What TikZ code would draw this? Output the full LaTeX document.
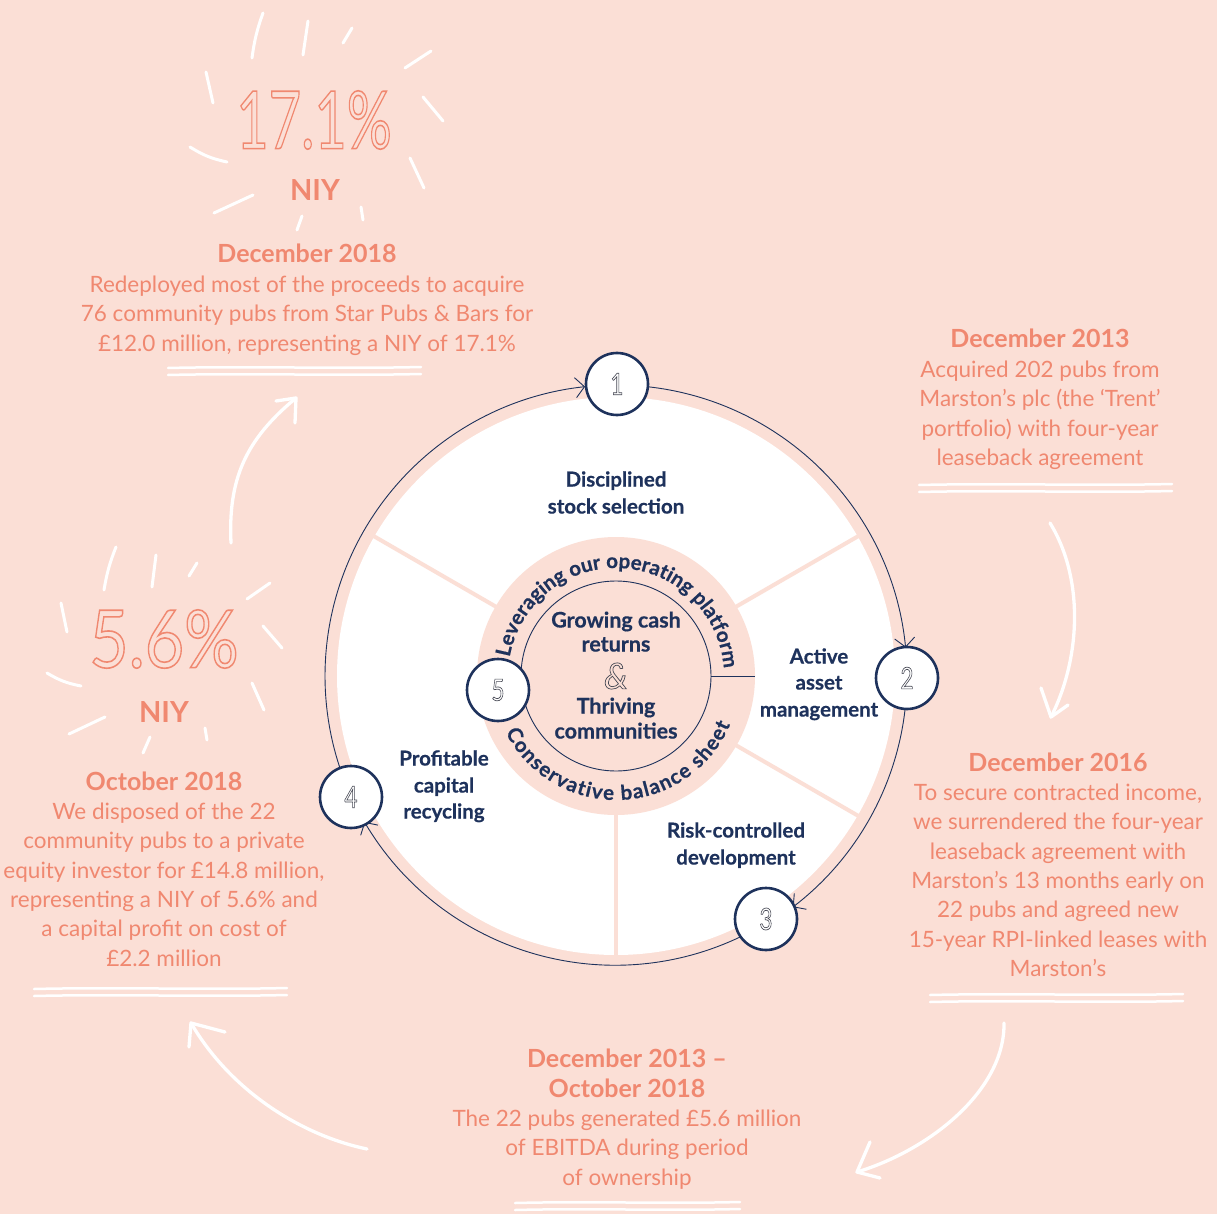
\documentclass[tikz,border=0pt]{standalone}
\usepackage{fontspec}
\setmainfont{Lato}
\usetikzlibrary{arrows.meta,decorations.text,calc}
\definecolor{bg}{RGB}{251,223,214}
\definecolor{salmon}{RGB}{240,136,112}
\definecolor{navy}{RGB}{30,50,92}
\definecolor{digitc}{RGB}{70,72,84}
\newcommand\olt[2]{\special{pdf:literal direct #1 w 1 Tr}#2\special{pdf:literal direct 0 Tr}}
\newcommand\heavy{\bfseries\addfontfeatures{FakeBold=0.5}}
\tikzset{
  body/.style={text=salmon, font=\fontsize{22.5}{25}\selectfont, anchor=mid, inner sep=0pt, yshift=-6pt},
  head/.style={text=salmon, font=\bfseries\fontsize{25}{28}\selectfont, anchor=mid, inner sep=0pt, yshift=-7pt},
  niy/.style={text=salmon, font=\bfseries\fontsize{29}{30}\selectfont, anchor=mid, inner sep=0pt, yshift=-8pt},
  lab/.style={text=navy, font=\heavy\fontsize{20.5}{23}\selectfont, anchor=mid, inner sep=0pt, yshift=-5pt},
  cen/.style={text=navy, font=\heavy\fontsize{21.5}{23}\selectfont, anchor=mid, inner sep=0pt, yshift=-5pt},
  numc/.style={circle, draw=navy, line width=2.6pt, fill=white, minimum size=62pt, inner sep=0pt, text=digitc},
  sketch/.style={white, line width=3pt, line cap=round, line join=round},
  uline/.style={white, line width=2.5pt, line cap=round},
  arr/.style={navy, line width=0.9pt, -{Straight Barb[length=9pt,width=20pt]}},
  spoke/.style={bg, line width=4pt},
}
\newcommand\dig[1]{\scalebox{0.75}[1]{\fontsize{30}{30}\selectfont\olt{0.7}{#1}}}
\begin{document}
\begin{tikzpicture}[x=1pt,y=1pt]
\fill[bg] (0,0) rectangle (1217,-1214);
\useasboundingbox (0,0) rectangle (1217,-1214);
\coordinate (C) at (616,-676);

% white disc and spokes
\fill[white] (C) circle[radius=279pt];
\foreach \a in {150,30,-30,270}
  \draw[spoke] ($(C)+(\a:137pt)$) -- ($(C)+(\a:281pt)$);
\fill[bg] (C) circle[radius=139pt];
\draw[navy, line width=0.9pt] (C) circle[radius=95pt];
\draw[navy, line width=0.9pt] ($(C)+(0:95pt)$) -- ($(C)+(0:139pt)$);

% curved texts
\path[decorate, decoration={text along path, text align=fit to path,
  text={|\heavy\fontsize{20.5}{21}\selectfont\color{navy}|Leveraging our operating platform}}]
  ($(C)+(170:108pt)$) arc[start angle=170, end angle=4, radius=108pt];
\path[decorate, decoration={text along path, text align=fit to path,
  text={|\heavy\fontsize{20.5}{21}\selectfont\color{navy}|Conservative balance sheet}}]
  ($(C)+(207:124pt)$) arc[start angle=207, end angle=337, radius=124pt];

% outer cycle arrows
\draw[arr] ($(C)+(83.9:291pt)$) arc[start angle=83.9, end angle=5.6, radius=291pt];
\draw[arr] ($(C)+(-6.6:291pt)$) arc[start angle=-6.6, end angle=-52.6, radius=291pt];
\draw[arr] ($(C)+(-64.4:289pt)$) arc[start angle=-64.4, end angle=-149.5, radius=291pt];
\draw[arr] ($(C)+(198.4:291pt)$) arc[start angle=198.4, end angle=96.1, radius=291pt];

% numbered nodes
\node[numc] (n1) at (617,-384) {\dig{1}};
\node[numc] (n2) at (907,-678) {\dig{2}};
\node[numc] (n3) at (766,-919) {\dig{3}};
\node[numc] (n4) at (351,-797) {\dig{4}};
\node[numc] (n5) at (498,-690) {\dig{5}};

% labels in the wheel
\node[lab] (l1a) at (616,-479) {Disciplined};
\node[lab] (l1b) at (616,-506) {stock selection};
\node[lab] (l2a) at (819,-656) {Active};
\node[lab] (l2b) at (819,-682) {asset};
\node[lab] (l2c) at (819,-709) {management};
\node[lab] (l3a) at (736,-830) {Risk-controlled};
\node[lab] (l3b) at (736,-857) {development};
\node[lab] (l4a) at (444,-758) {Profitable};
\node[lab] (l4b) at (444,-785) {capital};
\node[lab] (l4c) at (444,-811) {recycling};
\node[cen] (c1) at (616,-620) {Growing cash};
\node[cen] (c2) at (616,-644) {returns};
\node[text=digitc, inner sep=0pt] (amp) at (616,-676) {\fontsize{36}{36}\selectfont\itshape\olt{0.7}{\&}};
\node[cen] (c3) at (616,-706) {Thriving};
\node[cen] (c4) at (616,-731) {communities};

% big figures
\node[text=salmon, inner sep=0pt] (big1) at (314,-120) {\scalebox{0.7}[1]{\fontsize{80}{80}\selectfont\olt{1.6}{17.1\%}}};
\node[niy] (niy1) at (315,-190) {NIY};
\node[text=salmon, inner sep=0pt] (big2) at (164,-639) {\scalebox{0.85}[1]{\fontsize{80}{80}\selectfont\olt{1.6}{5.6\%}}};
\node[niy] (niy2) at (164,-712) {NIY};

% text blocks
\node[head] (h1) at (307,-253) {December 2018};
\foreach \t [count=\i] in {Redeployed most of the proceeds to acquire, 76 community pubs from Star Pubs \& Bars for, {£12.0 million, representing a NIY of 17.1\%}}
  \node[body] (tl\i) at (307,{-284-29.3*(\i-1)}) {\t};

\node[head] (h2) at (1040,-338) {December 2013};
\foreach \t [count=\i] in {Acquired 202 pubs from, Marston’s plc (the ‘Trent’, portfolio) with four-year, leaseback agreement}
  \node[body] (tr\i) at (1040,{-369-29.3*(\i-1)}) {\t};

\node[head] (h3) at (1058,-762) {December 2016};
\foreach \t [count=\i] in {{To secure contracted income,}, we surrendered the four-year, leaseback agreement with, Marston’s 13 months early on, 22 pubs and agreed new, 15-year RPI-linked leases with, Marston’s}
  \node[body] (br\i) at (1058,{-792-29.3*(\i-1)}) {\t};

\node[head] (h4) at (164,-781) {October 2018};
\foreach \t [count=\i] in {We disposed of the 22, community pubs to a private, {equity investor for £14.8 million,}, representing a NIY of 5.6\% and, a capital profit on cost of, £2.2 million}
  \node[body] (bl\i) at (164,{-811-29.3*(\i-1)}) {\t};

\node[head] (h5a) at (627,-1058) {December 2013 –};
\node[head] (h5b) at (627,-1088) {October 2018};
\foreach \t [count=\i] in {The 22 pubs generated £5.6 million, of EBITDA during period, of ownership}
  \node[body] (bm\i) at (627,{-1118-29.3*(\i-1)}) {\t};

% underlines
\foreach \xa/\xb/\yy in {168/421/368, 919/1172/485, 930/1183/995, 34/287/989, 515/740/1203}{
  \draw[uline] (\xa,-\yy) .. controls (\xa+80,-\yy+2) and (\xb-80,-\yy-1) .. (\xb,-\yy+1);
  \draw[uline] (\xa,-\yy-7) .. controls (\xa+80,-\yy-5) and (\xb-80,-\yy-8) .. (\xb,-\yy-6);
}

% rays around 17.1%
\draw[sketch] (263,-13) to[bend right=6] (252,-58);
\draw[sketch] (308,-21) -- (303,-55);
\draw[sketch] (352,-28) -- (343,-43);
\draw[sketch] (431,-51) -- (405,-68);
\draw[sketch] (423,-97) -- (443,-121);
\draw[sketch] (410,-158) -- (424,-188);
\draw[sketch] (361,-207) -- (363,-220);
\draw[sketch] (302,-216) -- (297,-230);
\draw[sketch] (253,-195) -- (214,-213);
\draw[sketch] (190,-147) to[bend right=10] (227,-162);
\draw[sketch] (206,-72) -- (213,-103);

% rays around 5.6%
\draw[sketch] (116,-547) to[bend right=6] (104,-590);
\draw[sketch] (156,-555) -- (152,-587);
\draw[sketch] (197,-563) -- (189,-576);
\draw[sketch] (270,-583) -- (247,-599);
\draw[sketch] (263,-626) -- (282,-648);
\draw[sketch] (252,-683) -- (264,-710);
\draw[sketch] (205,-728) -- (207,-740);
\draw[sketch] (150,-737) -- (143,-753);
\draw[sketch] (105,-717) -- (69,-734);
\draw[sketch] (47,-673) to[bend right=10] (81,-686);
\draw[sketch] (61,-603) -- (67,-632);

% sketched arrows
\draw[sketch, line width=3.3pt] (231,-543) .. controls (228,-480) and (245,-440) .. (296,-398);
\draw[sketch, line width=3.3pt] (276,-401) -- (296,-398) -- (295,-423);
\draw[sketch, line width=3.3pt] (1050,-523) .. controls (1085,-580) and (1080,-660) .. (1051,-717);
\draw[sketch, line width=3.3pt] (1041,-688) -- (1051,-717) -- (1068,-705);
\draw[sketch, line width=3.3pt] (1004,-1023) .. controls (1005,-1090) and (930,-1150) .. (857,-1172);
\draw[sketch, line width=3.3pt] (870,-1142) -- (857,-1172) -- (880,-1178);
\draw[sketch, line width=3.3pt] (367,-1149) .. controls (300,-1135) and (230,-1090) .. (191,-1023);
\draw[sketch, line width=3.3pt] (189,-1047) -- (191,-1023) -- (225,-1032);
\end{tikzpicture}
\end{document}
